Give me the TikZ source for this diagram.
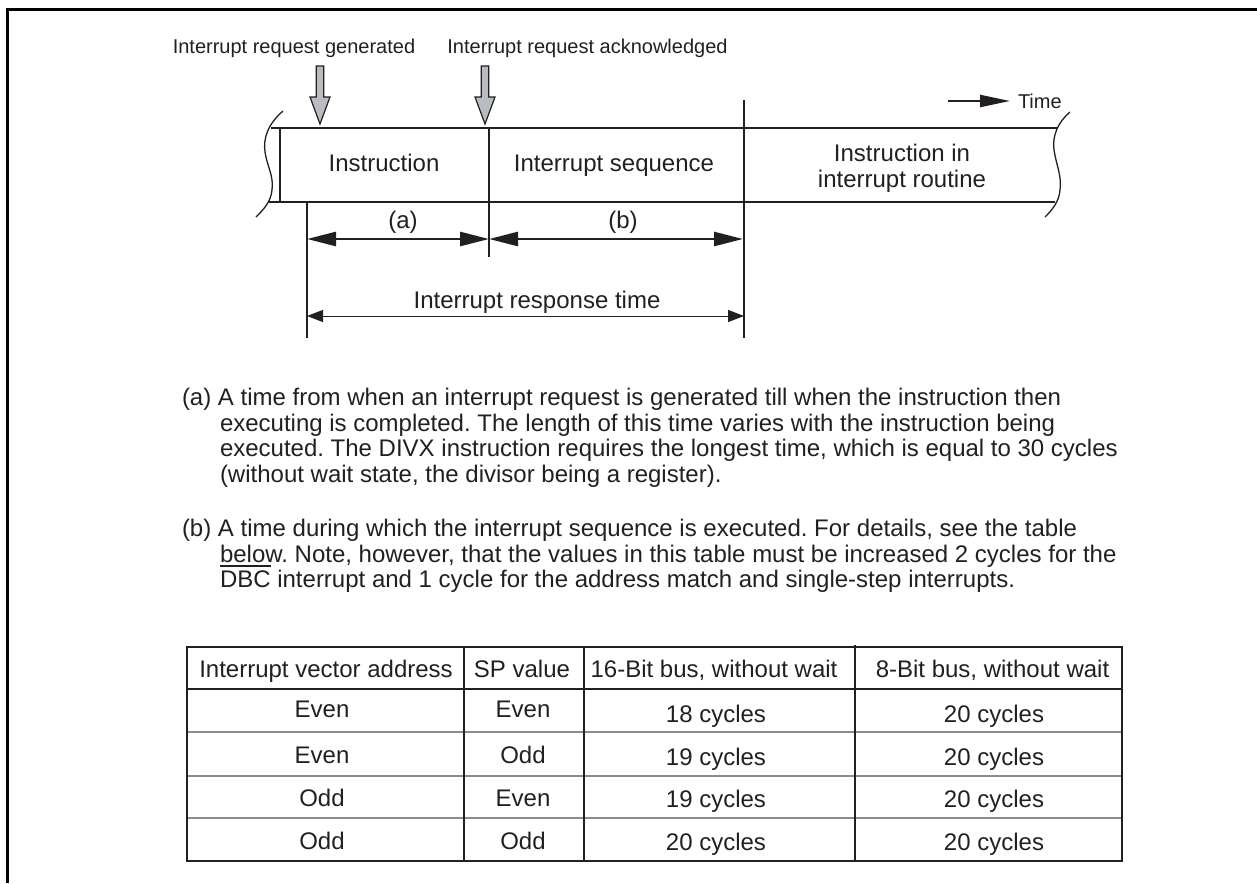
\documentclass[tikz,border=0pt]{standalone}
\usepackage{fontspec}
\setmainfont{Liberation Sans}
\usetikzlibrary{arrows.meta}
\definecolor{ink}{HTML}{231F20}
\definecolor{blockfill}{HTML}{B9BCC1}
\definecolor{rowrule}{HTML}{8C8C8C}
\newcommand{\barred}[1]{{\setbox0\hbox{#1}\rlap{\rule[21pt]{\wd0}{1.2pt}}#1}}
\frenchspacing

\begin{document}
\begin{tikzpicture}[x=1pt,y=-1pt,
  every node/.style={inner sep=0pt,outer sep=0pt,text=ink},
  body/.style={font=\fontsize{24}{25.5}\selectfont},
  smalltext/.style={font=\fontsize{20}{24}\selectfont},
  frameline/.style={draw=black,line width=3pt},
  bandline/.style={draw=ink,line width=2.2pt},
  divline/.style={draw=ink,line width=1.1pt},
  waveline/.style={draw=ink,line width=1.3pt},
  blockarrow/.style={draw=ink,line width=1.2pt,fill=blockfill,line join=miter},
  bigdim/.style={draw=ink,line width=2.6pt,
    {Triangle[length=29pt,width=14pt]}-{Triangle[length=29pt,width=14pt]}},
  smalldim/.style={draw=ink,line width=1pt,
    {Triangle[length=16pt,width=12pt]}-{Triangle[length=16pt,width=12pt]}},
  timearrow/.style={draw=ink,line width=2.2pt,-{Triangle[length=30pt,width=12pt]}},
  outerrule/.style={draw=ink,line width=2pt},
  colrule/.style={draw=ink,line width=1.5pt},
  rowline/.style={draw=rowrule,line width=1.3pt},
  cell/.style={body,anchor=base}
]
\useasboundingbox (0,0) rectangle (1257,883);

% page frame (top and left edges)
\draw[frameline] (7.5,883) -- (7.5,9.5) -- (1257,9.5);

% ---------- timing band ----------
\node[smalltext,anchor=base] (lblgen) at (294,53) {Interrupt request generated};
\node[smalltext,anchor=base] (lblack) at (587.5,53) {Interrupt request acknowledged};

% hollow block arrows marking the two events
\foreach \ax/\nm in {320/gen,485/ack}{
  \draw[blockarrow] (\ax-3.7,66) -- (\ax+3.7,66) -- (\ax+3.7,97) -- (\ax+10,97)
        -- (\ax,124) -- (\ax-10,97) -- (\ax-3.7,97) -- cycle;
  \coordinate (tip\nm) at (\ax,124);
}

% band outline
\draw[bandline] (271,128) -- (1058,128);
\draw[bandline] (269,202) -- (1055,202);
\draw[divline] (280,128) -- (280,202);

% break marks at both ends
\draw[waveline] (283,111) .. controls (268,124) and (263,138) .. (265,152)
   .. controls (267,166) and (274,176) .. (272,190)
   .. controls (271,202) and (263,210) .. (256,217);
\draw[waveline] (1070,112) .. controls (1058,122) and (1052,136) .. (1054,150)
   .. controls (1056,164) and (1062,176) .. (1060,190)
   .. controls (1059,202) and (1052,210) .. (1045,217);

% boundaries and extension lines
\coordinate (d0top) at (307,202);  \coordinate (d0bot) at (307,338);
\coordinate (d1top) at (489,128);  \coordinate (d1bot) at (489,257);
\coordinate (d2top) at (744,100);  \coordinate (d2bot) at (744,338);
\draw[divline] (d0top) -- (d0bot);
\draw[divline] (d1top) -- (d1bot);
\draw[divline] (d2top) -- (d2bot);

% band contents
\node[body,anchor=base] (instr) at (384,171.5) {Instruction};
\node[body,anchor=base] (intseq) at (614,171.5) {Interrupt sequence};
\node[body,anchor=base] (routine1) at (902,161.5) {Instruction in};
\node[body,anchor=base] (routine2) at (902,187) {interrupt routine};

% time direction
\coordinate (tstart) at (948,101);
\coordinate (tend) at (1010,101);
\node[smalltext,anchor=base west] (timelbl) at (1018,108) {Time};
\draw[timearrow] (tstart) -- (tend);

% dimensions
\coordinate (aL) at (307,239);
\coordinate (aM) at (489,239);
\coordinate (aR) at (743,239);
\draw[bigdim] (aL) -- (aM);
\draw[bigdim] (aM) -- (aR);
\node[body,anchor=base] (lbla) at (403,228) {(a)};
\node[body,anchor=base] (lblb) at (623,228) {(b)};

\coordinate (rL) at (307,316);
\coordinate (rR) at (744,316);
\draw[smalldim] (rL) -- (rR);
\node[body,anchor=base] (resp) at (537,308) {Interrupt response time};

% ---------- notes ----------
\node[body,anchor=base west] (na1) at (182,405.5) {(a) A time from when an interrupt request is generated till when the instruction then};
\node[body,anchor=base west] (na2) at (220,431) {executing is completed. The length of this time varies with the instruction being};
\node[body,anchor=base west] (na3) at (220,456.5) {executed. The DIVX instruction requires the longest time, which is equal to 30 cycles};
\node[body,anchor=base west] (na4) at (220,482) {(without wait state, the divisor being a register).};

\node[body,anchor=base west] (nb1) at (182,536.5) {(b) A time during which the interrupt sequence is executed. For details, see the table};
\node[body,anchor=base west] (nb2) at (220,562) {below. Note, however, that the values in this table must be increased 2 cycles for the};
\node[body,anchor=base west] (nb3) at (220,587.5) {\barred{DBC} interrupt and 1 cycle for the address match and single-step interrupts.};

% ---------- table ----------
\draw[rowline] (187,732) -- (1122,732);
\draw[rowline] (187,776) -- (1122,776);
\draw[rowline] (187,818) -- (1122,818);
\draw[colrule] (187,689) -- (1122,689);
\draw[colrule] (464,647) -- (464,861);
\draw[colrule] (584,647) -- (584,861);
\draw[colrule] (855,645) -- (855,861);
\draw[outerrule] (187,647) rectangle (1122,861);

\node[cell] (h1) at (326,677) {Interrupt vector address};
\node[cell] (h2) at (522,677) {SP value};
\node[cell] (h3) at (714,677) {16-Bit bus, without wait};
\node[cell] (h4) at (992.5,677) {8-Bit bus, without wait};

\node[cell] (r1c1) at (322,717) {Even};
\node[cell] (r1c2) at (523,717) {Even};
\node[cell] (r1c3) at (716,722) {18 cycles};
\node[cell] (r1c4) at (994,722) {20 cycles};

\node[cell] (r2c1) at (322,763) {Even};
\node[cell] (r2c2) at (523,763) {Odd};
\node[cell] (r2c3) at (716,765) {19 cycles};
\node[cell] (r2c4) at (994,765) {20 cycles};

\node[cell] (r3c1) at (322,806) {Odd};
\node[cell] (r3c2) at (523,806) {Even};
\node[cell] (r3c3) at (716,807) {19 cycles};
\node[cell] (r3c4) at (994,807) {20 cycles};

\node[cell] (r4c1) at (322,849) {Odd};
\node[cell] (r4c2) at (523,849) {Odd};
\node[cell] (r4c3) at (716,850) {20 cycles};
\node[cell] (r4c4) at (994,850) {20 cycles};
\end{tikzpicture}
\end{document}
